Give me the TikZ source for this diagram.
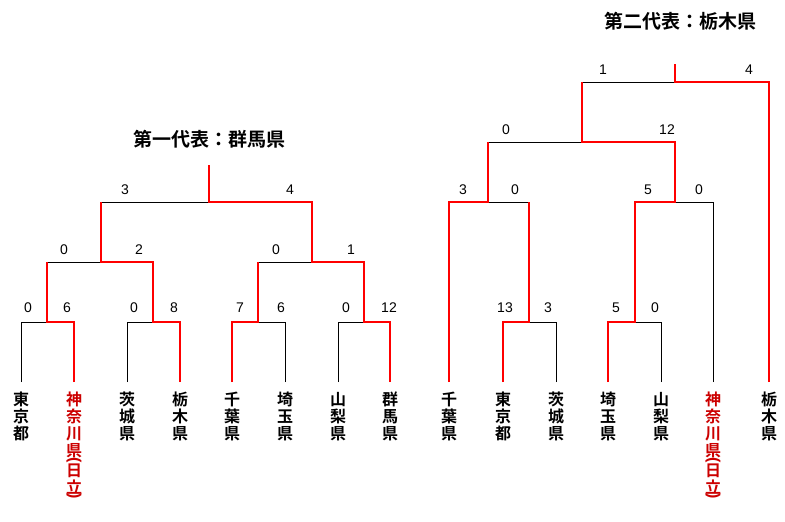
\documentclass[tikz,border=0pt]{standalone}
\usepackage{fontspec}
\usepackage{graphicx}
\newfontfamily\cjk{Noto Sans CJK JP}[BoldFont={Noto Sans CJK JP Bold}]
\newfontfamily\num{Liberation Sans}
\definecolor{lred}{HTML}{FF0000}
\definecolor{tred}{HTML}{CC0000}
\newcommand{\kanapar}{神\\奈\\川\\県\\[-9pt]\rotatebox[origin=c]{-90}{\num\bfseries(}\\[-5pt]日\\立\\[-10pt]\rotatebox[origin=c]{-90}{\num\bfseries)}}
\begin{document}
\begin{tikzpicture}[x=1pt,y=-1pt,
  bl/.style={draw=black,line width=0.9pt},
  rd/.style={draw=lred,line width=2pt},
  sc/.style={font=\num\fontsize{14}{14}\selectfont,inner sep=0pt},
  nm/.style={font=\cjk\bfseries\fontsize{16}{17}\selectfont,align=center,anchor=north,inner sep=0pt},
  ttl/.style={font=\cjk\bfseries\fontsize{19}{19}\selectfont,inner sep=0pt}]
\fill[white] (0,0) rectangle (785,522);
\useasboundingbox (0,0) rectangle (785,522);
% ---------- left bracket ----------
\foreach \n/\x in {a/21,b/74,c/127,d/180,e/232,f/285,g/338,h/390}{\coordinate (L\n) at (\x,382);}
\draw[bl] (La) |- (47,322);
\draw[bl] (Lc) |- (153,322);
\draw[bl] (Lf) |- (258,322);
\draw[bl] (Lg) |- (364,322);
\draw[bl] (47,262) -- (101,262);
\draw[bl] (258,262) -- (312,262);
\draw[bl] (101,202) -- (209,202);
\draw[rd] (Lb) |- (47,322) -- (47,262);
\draw[rd] (Ld) |- (153,322) -- (153,262) -- (101,262) -- (101,202);
\draw[rd] (Le) |- (258,322) -- (258,262);
\draw[rd] (Lh) |- (364,322) -- (364,262) -- (312,262) -- (312,202) -- (209,202) -- (209,165);
\foreach \x/\y/\t in {28/308/0,67/308/6,134/308/0,174/308/8,240/308/7,281/308/6,346/308/0,389/308/12,
  64/250/0,139/250/2,276/250/0,351/250/1,125/190/3,290/190/4}{\node[sc] at (\x,\y) {\t};}
\node[ttl] (T1) at (209,139) {第一代表：群馬県};
\node[nm] (n1) at (21,392) {東\\京\\都};
\node[nm,text=tred] (n2) at (74,392) {\kanapar};
\node[nm] (n3) at (127,392) {茨\\城\\県};
\node[nm] (n4) at (180,392) {栃\\木\\県};
\node[nm] (n5) at (232,392) {千\\葉\\県};
\node[nm] (n6) at (285,392) {埼\\玉\\県};
\node[nm] (n7) at (338,392) {山\\梨\\県};
\node[nm] (n8) at (390,392) {群\\馬\\県};
% ---------- right bracket ----------
\foreach \n/\x in {a/449,b/503,c/556,d/608,e/661,f/713,g/769}{\coordinate (R\n) at (\x,382);}
\draw[bl] (Rc) |- (529,322);
\draw[bl] (Re) |- (635,322);
\draw[bl] (Rf) |- (675,202);
\draw[bl] (488,202) -- (529,202);
\draw[bl] (488,142) -- (582,142);
\draw[bl] (582,82) -- (675,82);
\draw[rd] (Ra) |- (488,202) -- (488,142);
\draw[rd] (Rb) |- (529,322) -- (529,202);
\draw[rd] (Rd) |- (635,322) -- (635,202) -- (675,202) -- (675,142) -- (582,142) -- (582,82);
\draw[rd] (Rg) |- (675,82) -- (675,64);
\foreach \x/\y/\t in {505/308/13,548/308/3,616/308/5,655/308/0,
  463/190/3,515/190/0,648/190/5,699/190/0,506/130/0,667/130/12,603/70/1,749/70/4}{\node[sc] at (\x,\y) {\t};}
\node[ttl] (T2) at (680,21) {第二代表：栃木県};
\node[nm] (m1) at (449,392) {千\\葉\\県};
\node[nm] (m2) at (503,392) {東\\京\\都};
\node[nm] (m3) at (556,392) {茨\\城\\県};
\node[nm] (m4) at (608,392) {埼\\玉\\県};
\node[nm] (m5) at (661,392) {山\\梨\\県};
\node[nm,text=tred] (m6) at (713,392) {\kanapar};
\node[nm] (m7) at (769,392) {栃\\木\\県};
\end{tikzpicture}
\end{document}
